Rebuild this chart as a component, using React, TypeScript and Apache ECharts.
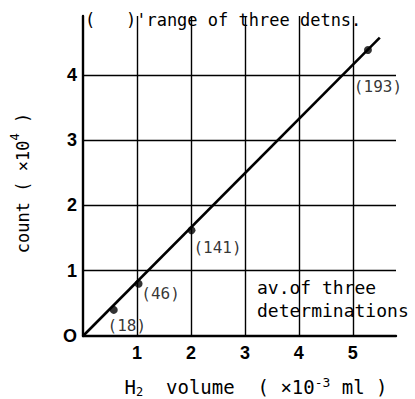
import React, { useEffect, useRef } from "react";
import * as echarts from "echarts";

// H2 volume (×10^-3 ml) and count (×10^4) for each averaged determination
const volumes = [0.57, 1.03, 2.01, 5.28];
const counts = [0.4, 0.8, 1.62, 4.38];
const rangeLabels = ["(18)", "(46)", "(141)", "(193)"];

// straight calibration line drawn through the points
const lineX = [0, 5.5];
const lineY = [0, 4.57];

const xTickValues = [1, 2, 3, 4, 5];
const yTickValues = [0, 1, 2, 3, 4];

const MONO = "'DejaVu Sans Mono', monospace";
const SANS = "'Liberation Sans', Arial, sans-serif";

// label placement around each point (pixels)
const labelOffsets: [number, number][] = [
  [13, 16],
  [22, 10],
  [26, 17],
  [10, 37],
];

export default function App() {
  const ref = useRef<HTMLDivElement>(null);

  useEffect(() => {
    if (!ref.current) return;
    const chart = echarts.init(ref.current, null, { renderer: "svg" });

    const points = volumes.map((v, i) => ({
      value: [v, counts[i]],
      label: {
        show: true,
        formatter: rangeLabels[i],
        position: "inside" as const,
        offset: labelOffsets[i],
        color: "#000",
        fontFamily: MONO,
        fontSize: 16,
      },
    }));

    const gridLine = { color: "#000", width: 1.4 };

    chart.setOption({
      animation: false,
      backgroundColor: "#fff",
      grid: { left: 83, right: 19, top: 16, bottom: 63 },
      xAxis: {
        type: "value",
        min: 0,
        max: 5.8,
        interval: 1,
        axisLine: { show: true, onZero: false, lineStyle: { color: "#000", width: 2.4 } },
        axisTick: { show: false },
        splitLine: {
          show: true,
          showMinLine: false,
          showMaxLine: false,
          lineStyle: gridLine,
        },
        axisLabel: {
          margin: 8,
          color: "#000",
          fontFamily: SANS,
          fontWeight: "bold",
          fontSize: 18,
          showMinLabel: false,
          showMaxLabel: false,
          formatter: (v: number) => (xTickValues.includes(v) ? String(v) : ""),
        },
      },
      yAxis: {
        type: "value",
        min: 0,
        max: 4.9,
        interval: 1,
        axisLine: { show: true, onZero: false, lineStyle: { color: "#000", width: 2.4 } },
        axisTick: { show: false },
        splitLine: {
          show: true,
          showMinLine: false,
          showMaxLine: false,
          lineStyle: gridLine,
        },
        axisLabel: {
          margin: 6,
          color: "#000",
          fontFamily: SANS,
          fontWeight: "bold",
          fontSize: 18,
          showMaxLabel: false,
          formatter: (v: number) =>
            v === 0 ? "O" : yTickValues.includes(v) ? String(v) : "",
        },
      },
      series: [
        {
          type: "line",
          data: lineX.map((x, i) => [x, lineY[i]]),
          showSymbol: false,
          lineStyle: { color: "#000", width: 2.6 },
          z: 3,
        },
        {
          type: "scatter",
          data: points,
          symbol: "circle",
          symbolSize: 8,
          itemStyle: { color: "#000" },
          z: 4,
        },
      ],
      graphic: [
        {
          type: "text",
          x: 85,
          y: 20,
          style: {
            text: "(   )'range of three detns.",
            fill: "#000",
            font: `17px ${MONO}`,
            verticalAlign: "middle",
          },
        },
        {
          type: "text",
          x: 257,
          y: 276,
          style: {
            text: "av.of three\ndeterminations",
            fill: "#000",
            font: `18px ${MONO}`,
            lineHeight: 23,
            verticalAlign: "top",
          },
        },
        {
          type: "text",
          x: 20,
          y: 183,
          rotation: Math.PI / 2,
          style: {
            text: "{n|count ( ×10}{s|4}{n| )}",
            fill: "#000",
            align: "center",
            verticalAlign: "middle",
            rich: {
              n: { fontFamily: MONO, fontSize: 17, lineHeight: 22, verticalAlign: "bottom" },
              s: { fontFamily: MONO, fontSize: 12, lineHeight: 22, verticalAlign: "top" },
            },
          },
        },
        {
          type: "text",
          x: 256,
          y: 387,
          style: {
            text: "{n|H}{b|2}{n|  volume  ( ×10}{s|-3}{n| ml )}",
            fill: "#000",
            align: "center",
            verticalAlign: "middle",
            rich: {
              n: { fontFamily: MONO, fontSize: 19, lineHeight: 22 },
              b: { fontFamily: MONO, fontSize: 12, lineHeight: 22, verticalAlign: "bottom" },
              s: { fontFamily: MONO, fontSize: 13, lineHeight: 22, verticalAlign: "top" },
            },
          },
        },
      ],
    });

    return () => chart.dispose();
  }, []);

  return (
    <div
      ref={ref}
      style={{ position: "fixed", left: 0, top: 0, width: 415, height: 399 }}
    />
  );
}
